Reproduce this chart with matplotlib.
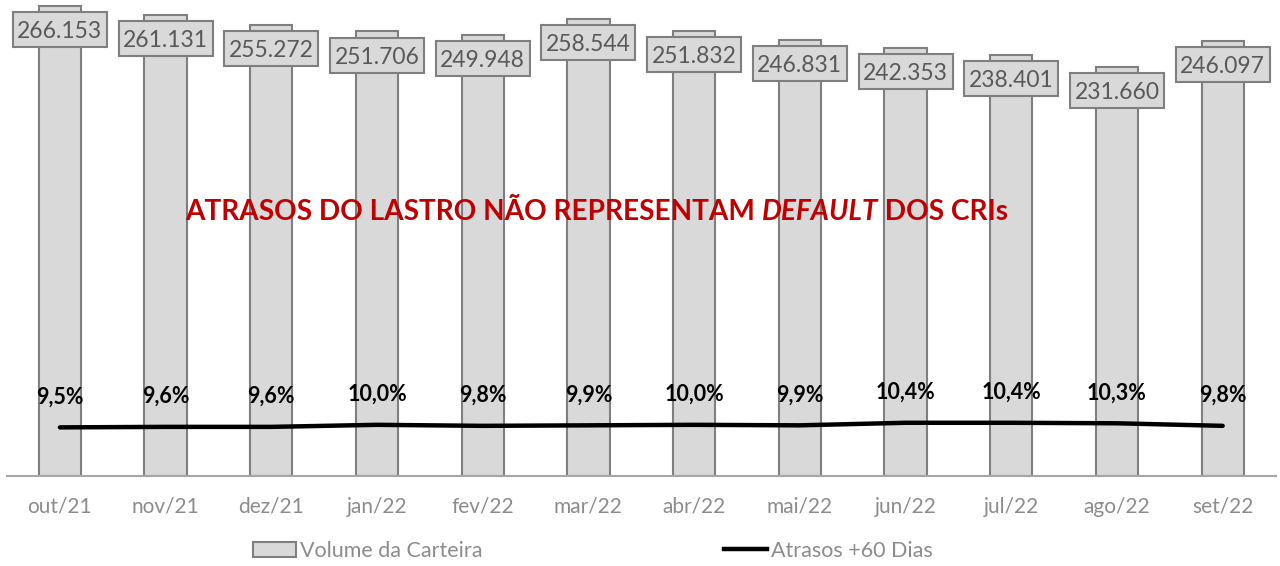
import numpy as np
import matplotlib.pyplot as plt
from matplotlib.patches import Patch, Rectangle
from matplotlib.lines import Line2D
from matplotlib.transforms import Affine2D, ScaledTranslation

plt.rcParams['font.family'] = ['Lato', 'DejaVu Sans']

meses = ['out/21', 'nov/21', 'dez/21', 'jan/22', 'fev/22', 'mar/22',
         'abr/22', 'mai/22', 'jun/22', 'jul/22', 'ago/22', 'set/22']
volume = [266153, 261131, 255272, 251706, 249948, 258544,
          251832, 246831, 242353, 238401, 231660, 246097]
atrasos = [9.5, 9.6, 9.6, 10.0, 9.8, 9.9, 10.0, 9.9, 10.4, 10.4, 10.3, 9.8]

fig = plt.figure(figsize=(12.8, 5.66), dpi=100)
ax = fig.add_axes([0.0055, 0.159, 0.991, 0.841])
x = np.arange(len(meses))

ax.bar(x, volume, width=0.4, color='#d9d9d9', edgecolor='#7f7f7f', linewidth=1.5, zorder=2)
ax.set_xlim(-0.5, len(meses) - 0.5)
ax.set_ylim(0, 269500)
ax.set_yticks([])
for s in ['top', 'right', 'left']:
    ax.spines[s].set_visible(False)
ax.spines['bottom'].set_color('#a6a6a6')
ax.spines['bottom'].set_linewidth(1.5)
ax.set_xticks(x)
ax.set_xticklabels(meses, fontsize=15, color='#8c8c8c')
ax.tick_params(axis='x', length=0, pad=15)

# caixas dos rotulos de volume (tamanho fixo em pontos)
box_w, box_h, box_dy = 67.7, 25.2, -17
for xi, v in zip(x, volume):
    tr = Affine2D().scale(fig.dpi / 72) + ScaledTranslation(xi, v, ax.transData)
    ax.add_patch(Rectangle((-box_w / 2, box_dy - box_h / 2), box_w, box_h, transform=tr,
                           fc='#d9d9d9', ec='#7f7f7f', lw=1.5, zorder=5, clip_on=False))
    lbl = f'{v:,}'.replace(',', '.')
    ax.annotate(lbl, (xi, v), xytext=(0, box_dy), textcoords='offset points',
                ha='center', va='center_baseline', fontsize=16.5, color='#595959', zorder=6)

ax2 = ax.twinx()
ax2.set_ylim(0, 0.93)
ax2.set_yticks([])
for s in ax2.spines.values():
    s.set_visible(False)
ax2.plot(x, np.array(atrasos) / 100, color='black', lw=3.2, solid_capstyle='round', zorder=4)
for xi, p in zip(x, atrasos):
    ax2.annotate(f'{p:.1f}%'.replace('.', ','), (xi, p / 100), xytext=(0, 22),
                 textcoords='offset points', ha='center', va='center',
                 fontsize=15.5, fontweight='bold', color='black')

# titulo em vermelho com DEFAULT em italico
red = '#c00000'
t1 = fig.text(185 / 1280, 1 - 212 / 566, 'ATRASOS DO LASTRO NÃO REPRESENTAM ',
              ha='left', va='center', fontsize=20.2, fontweight='bold', color=red)
t2 = ax.annotate('DEFAULT', xy=(1, 0), xycoords=t1, ha='left', va='bottom',
                 fontsize=20.2, fontweight='bold', fontstyle='italic', color=red)
t3 = ax.annotate(' DOS CRIs', xy=(1, 0), xycoords=t2, ha='left', va='bottom',
                 fontsize=20.2, fontweight='bold', color=red)

handles = [Patch(fc='#d9d9d9', ec='#7f7f7f', lw=1.5),
           Line2D([0], [0], color='black', lw=3.2)]
fig.legend(handles, ['Volume da Carteira', 'Atrasos +60 Dias'], loc='center',
           bbox_to_anchor=(593 / 1280, 15 / 566), ncol=2, frameon=False, fontsize=15.5,
           labelcolor='#8c8c8c', handlelength=2.0, handletextpad=0.2, columnspacing=11.2)

fig.savefig('out.png', dpi=100)
